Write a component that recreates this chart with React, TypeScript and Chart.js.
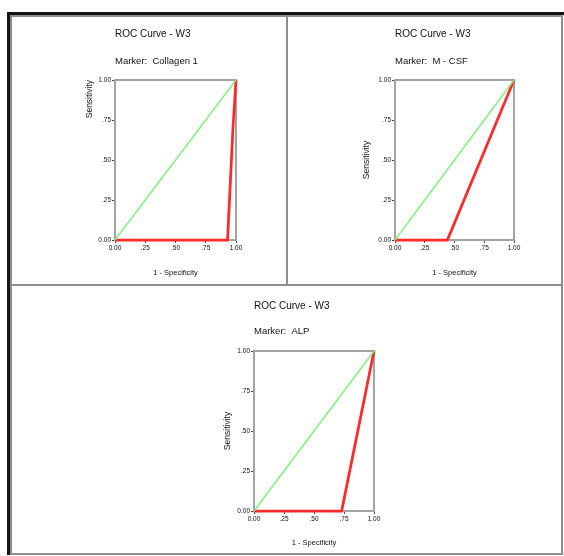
import { useEffect, useRef } from "react";
import { Chart, registerables } from "chart.js";

Chart.register(...registerables);

// ---------- data ----------
const chartTitle = "ROC Curve - W3";
const markerNames = ["Collagen 1", "M - CSF", "ALP"];
const xAxisTitle = "1 - Specificity";
const yAxisTitle = "Sensitivity";
const tickValues = [0, 0.25, 0.5, 0.75, 1];
const tickLabels = ["0.00", ".25", ".50", ".75", "1.00"];

const referenceFpr = [0, 1];
const referenceTpr = [0, 1];

const collagenFpr = [0, 0.93, 0.975, 1];
const collagenTpr = [0, 0, 0.7, 1];

const mcsfFpr = [0, 0.44, 1];
const mcsfTpr = [0, 0, 1];

const alpFpr = [0, 0.73, 1];
const alpTpr = [0, 0, 1];

const curves = [
  { fpr: collagenFpr, tpr: collagenTpr },
  { fpr: mcsfFpr, tpr: mcsfTpr },
  { fpr: alpFpr, tpr: alpTpr },
];

// ---------- layout (page coordinates) ----------
type Layout = {
  canvas: { left: number; top: number; width: number; height: number };
  plot: { left: number; top: number; right: number; bottom: number };
  titleY: number;
  subtitleY: number;
  yTitleX: number;
  xTitleY: number;
  yTitleAlign: "start" | "center" | "end";
};

const layouts: Layout[] = [
  {
    canvas: { left: 12, top: 17, width: 274, height: 267 },
    plot: { left: 115, top: 80, right: 236, bottom: 240 },
    titleY: 34,
    subtitleY: 61,
    yTitleX: 90,
    xTitleY: 273,
    yTitleAlign: "end",
  },
  {
    canvas: { left: 289, top: 17, width: 272, height: 267 },
    plot: { left: 395, top: 80, right: 514, bottom: 240 },
    titleY: 34,
    subtitleY: 61,
    yTitleX: 367,
    xTitleY: 273,
    yTitleAlign: "center",
  },
  {
    canvas: { left: 12, top: 288, width: 549, height: 264 },
    plot: { left: 254, top: 351, right: 374, bottom: 511 },
    titleY: 306,
    subtitleY: 331,
    yTitleX: 228,
    xTitleY: 543,
    yTitleAlign: "center",
  },
];

const FONT = "'Liberation Sans', Arial, sans-serif";
const TEXT_COLOR = "#111";
const TITLE_SIZE = 10;
const SUB_SIZE = 9.5;
const XT_SIZE = 7.5;
const YT_SIZE = 8.5;
const TICK_SIZE = 6.5;
const LH = 1.2;

const framePlugin = {
  id: "plotFrame",
  beforeDatasetsDraw(chart: any) {
    const { ctx, chartArea } = chart;
    const { left, top, right, bottom } = chartArea;
    ctx.save();
    ctx.strokeStyle = "#a3a3a3";
    ctx.lineWidth = 2;
    ctx.strokeRect(left, top, right - left, bottom - top);
    ctx.restore();
  },
};

function RocChart({ index }: { index: number }) {
  const ref = useRef<HTMLCanvasElement | null>(null);
  const L = layouts[index];
  useEffect(() => {
    if (!ref.current) return;
    const c = L.canvas;
    const p = L.plot;
    const tLH = TITLE_SIZE * LH;
    const sLH = SUB_SIZE * LH;
    const titlePadTop = L.titleY - c.top - tLH / 2;
    const subBoxTop = titlePadTop + tLH;
    const subPadTop = L.subtitleY - c.top - subBoxTop - sLH / 2;
    const subPadBottom = p.top - c.top - (subBoxTop + subPadTop + sLH);
    const yAxisWidth = p.left - c.left;
    const xAxisHeight = c.top + c.height - p.bottom;
    const padRight = c.left + c.width - p.right;
    const yTitlePad = L.yTitleX - c.left - (YT_SIZE * LH) / 2;
    const xTitlePad = c.top + c.height - L.xTitleY - (XT_SIZE * LH) / 2;

    const curve = curves[index];
    const rocData = curve.fpr.map((x, i) => ({ x, y: curve.tpr[i] }));
    const refData = referenceFpr.map((x, i) => ({ x, y: referenceTpr[i] }));

    const tickCb = (v: any) => {
      const i = tickValues.indexOf(Number(v));
      return i >= 0 ? tickLabels[i] : "";
    };
    const forceTicks = (s: any) => {
      s.ticks = tickValues.map((v) => ({ value: v }));
    };

    const chart = new Chart(ref.current, {
      type: "scatter",
      data: {
        datasets: [
          {
            data: refData,
            showLine: true,
            borderColor: "#84ee84",
            borderWidth: 1.5,
            pointRadius: 0,
            clip: 6,
          } as any,
          {
            data: rocData,
            showLine: true,
            borderColor: "#ff2a2a",
            borderWidth: 2.75,
            pointRadius: 0,
            clip: 6,
          } as any,
        ],
      },
      options: {
        animation: false,
        responsive: false,
        devicePixelRatio: 1,
        layout: { padding: { left: 0, top: 0, right: padRight, bottom: 0 } },
        plugins: {
          legend: { display: false },
          tooltip: { enabled: false },
          title: {
            display: true,
            text: chartTitle,
            align: "start",
            fullSize: false,
            color: TEXT_COLOR,
            font: { family: FONT, size: TITLE_SIZE, weight: "normal", lineHeight: LH },
            padding: { top: titlePadTop, bottom: 0 },
          },
          subtitle: {
            display: true,
            text: "Marker:  " + markerNames[index],
            align: "start",
            fullSize: false,
            color: TEXT_COLOR,
            font: { family: FONT, size: SUB_SIZE, weight: "normal", lineHeight: LH },
            padding: { top: subPadTop, bottom: subPadBottom },
          },
        },
        scales: {
          x: {
            type: "linear",
            min: 0,
            max: 1,
            afterBuildTicks: forceTicks,
            afterFit: (s: any) => {
              s.height = xAxisHeight;
            },
            border: { display: false },
            grid: {
              display: true,
              drawOnChartArea: false,
              drawTicks: true,
              tickLength: 3,
              color: "#444",
              lineWidth: 1,
            },
            ticks: {
              callback: tickCb,
              autoSkip: false,
              maxRotation: 0,
              padding: 1.5,
              color: TEXT_COLOR,
              font: { family: FONT, size: TICK_SIZE, lineHeight: LH },
            },
            title: {
              display: true,
              text: xAxisTitle,
              color: TEXT_COLOR,
              font: { family: FONT, size: XT_SIZE, lineHeight: LH },
              padding: { top: 0, bottom: xTitlePad },
            },
          },
          y: {
            type: "linear",
            min: 0,
            max: 1,
            afterBuildTicks: forceTicks,
            afterFit: (s: any) => {
              s.width = yAxisWidth;
            },
            border: { display: false },
            grid: {
              display: true,
              drawOnChartArea: false,
              drawTicks: true,
              tickLength: 3,
              color: "#444",
              lineWidth: 1,
            },
            ticks: {
              callback: tickCb,
              autoSkip: false,
              padding: 1,
              color: TEXT_COLOR,
              font: { family: FONT, size: TICK_SIZE, lineHeight: LH },
            },
            title: {
              display: true,
              text: yAxisTitle,
              align: L.yTitleAlign,
              color: TEXT_COLOR,
              font: { family: FONT, size: YT_SIZE, lineHeight: LH },
              padding: { top: yTitlePad, bottom: 0 },
            },
          },
        },
      } as any,
      plugins: [framePlugin],
    });
    return () => chart.destroy();
  }, [index]);

  return (
    <canvas
      ref={ref}
      width={L.canvas.width}
      height={L.canvas.height}
      style={{
        position: "absolute",
        left: L.canvas.left,
        top: L.canvas.top,
        width: L.canvas.width,
        height: L.canvas.height,
      }}
    />
  );
}

const panelBorder = "2px solid #8e8e8e";

export default function App() {
  const abs = (left: number, top: number, width: number, height: number) => ({
    position: "absolute" as const,
    left,
    top,
    width,
    height,
    boxSizing: "border-box" as const,
  });
  return (
    <div style={{ position: "absolute", left: 0, top: 0, width: 564, height: 556, background: "#fff" }}>
      <div
        style={{
          ...abs(7, 12, 557, 543),
          borderTop: "3px solid #151515",
          borderLeft: "3px solid #151515",
        }}
      />
      <div style={{ ...abs(10, 15, 278, 271), border: panelBorder, background: "#fff" }} />
      <div style={{ ...abs(286, 15, 277, 271), border: panelBorder, background: "#fff" }} />
      <div style={{ ...abs(10, 284, 553, 271), border: panelBorder, background: "#fff" }} />
      <RocChart index={0} />
      <RocChart index={1} />
      <RocChart index={2} />
    </div>
  );
}
